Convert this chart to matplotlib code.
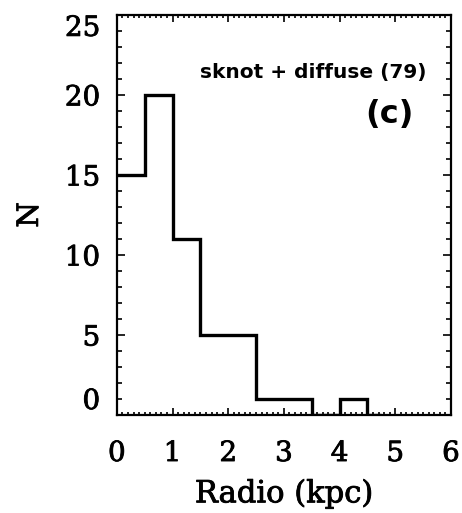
import matplotlib
matplotlib.use("Agg")
import matplotlib.pyplot as plt
import matplotlib.patheffects as pe
from matplotlib.ticker import MultipleLocator
import numpy as np

# Data
bin_edges = [0.0, 0.5, 1.0, 1.5, 2.0, 2.5, 3.0, 3.5, 4.0, 4.5, 4.75]
counts = [15, 20, 11, 5, 5, 1, 1, 0, 1, 0]
x_ticks = [0, 1, 2, 3, 4, 5, 6]
y_ticks = [0, 5, 10, 15, 20, 25]
annotation = "sknot + diffuse (79)"
panel = "(c)"
xlabel = "Radio (kpc)"
ylabel = "N"

fig = plt.figure(figsize=(4.62, 5.13), dpi=100)
ax = fig.add_axes([0.253, 0.191, 0.723, 0.780])

ax.stairs(counts, bin_edges, color="black", linewidth=2.4, baseline=None)

ax.set_xlim(0, 6)
ax.set_ylim(0, 25)
ax.set_xticks(x_ticks)
ax.set_yticks(y_ticks)
ax.xaxis.set_minor_locator(MultipleLocator(0.1))
ax.yaxis.set_minor_locator(MultipleLocator(1))

for s in ax.spines.values():
    s.set_linewidth(1.6)

ax.tick_params(which="both", direction="in", top=True, right=True, width=1.2)
ax.tick_params(which="major", axis="y", length=6)
ax.tick_params(which="minor", axis="y", length=3.5)
ax.tick_params(which="major", axis="x", length=5)
ax.tick_params(which="minor", axis="x", length=2)
ax.tick_params(axis="x", pad=18)
ax.tick_params(axis="y", pad=12)

thick = [pe.withStroke(linewidth=0.6, foreground="black")]
font = dict(family="DejaVu Serif", size=20)
ax.set_xticklabels([str(t) for t in x_ticks], **font)
ax.set_yticklabels([str(t) for t in y_ticks], **font)
for lab in ax.get_xticklabels() + ax.get_yticklabels():
    lab.set_path_effects(thick)
ylabs = ax.get_yticklabels()
ylabs[0].set_va("bottom")
ylabs[-1].set_va("top")

xl = ax.set_xlabel(xlabel, labelpad=8, family="DejaVu Serif", size=22)
yl = ax.set_ylabel(ylabel, labelpad=15, family="DejaVu Serif", size=21)
xl.set_path_effects(thick)
yl.set_path_effects(thick)

ax.text(5.57, 21.4, annotation, ha="right", va="center",
        family="DejaVu Sans", fontweight="bold", fontsize=14.5)
ax.text(4.89, 18.75, panel, ha="center", va="center",
        family="DejaVu Sans", fontweight="bold", fontsize=23)

fig.savefig("out.png", dpi=100)
